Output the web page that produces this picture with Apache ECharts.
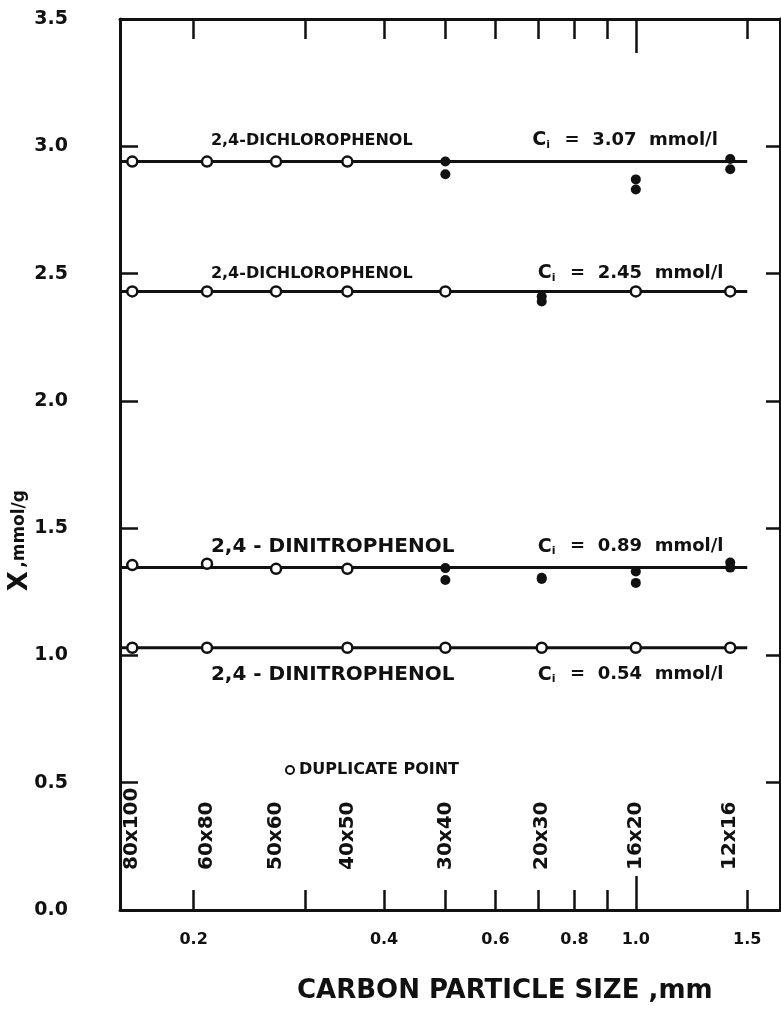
<!DOCTYPE html>
<html>
<head>
<meta charset="utf-8">
<script src="https://cdn.jsdelivr.net/npm/echarts@6/dist/echarts.min.js"></script>
<style>
  html, body { margin: 0; padding: 0; background: #fff; }
  #chart { width: 781px; height: 1009px; }
</style>
</head>
<body>
<div id="chart"></div>
<script>
// Sieve fractions and their mean particle diameters (mm)
const meshSizes = ['80x100', '60x80', '50x60', '40x50', '30x40', '20x30', '16x20', '12x16'];
const meshDiameters = [0.16, 0.21, 0.27, 0.35, 0.50, 0.71, 1.00, 1.41];

// Axis ticks and labels
const xTickValues = [0.2, 0.3, 0.4, 0.5, 0.6, 0.7, 0.8, 0.9, 1.0, 1.5];
const xLabelValues = [0.2, 0.4, 0.6, 0.8, 1.0, 1.5];
const xMajorTick = [1.0];
const xRange = [0.153, 1.69];
const yRange = [0, 3.5];
const yStep = 0.5;

// Curves: compound, initial concentration (mmol/l), mean uptake X (mmol/g)
const compounds = ['2,4-DICHLOROPHENOL', '2,4-DICHLOROPHENOL', '2,4 - DINITROPHENOL', '2,4 - DINITROPHENOL'];
const initialConc = ['3.07', '2.45', '0.89', '0.54'];
const meanUptake = [2.94, 2.43, 1.345, 1.03];
const fitLineEnd = 1.5;

// Points where both replicates coincide (open circles), one row per curve, per sieve fraction
const coincident = [
  [2.94, 2.94, 2.94, 2.94, null, null, null, null],
  [2.43, 2.43, 2.43, 2.43, 2.43, null, 2.43, 2.43],
  [1.355, 1.36, 1.34, 1.34, null, null, null, null],
  [1.03, 1.03, null, 1.03, 1.03, 1.03, 1.03, 1.03]
];
// Separate replicate results (filled dots)
const replicateA = [
  [null, null, null, null, 2.94, null, 2.87, 2.95],
  [null, null, null, null, null, 2.41, null, null],
  [null, null, null, null, 1.343, 1.305, 1.33, 1.365],
  [null, null, null, null, null, null, null, null]
];
const replicateB = [
  [null, null, null, null, 2.89, null, 2.83, 2.91],
  [null, null, null, null, null, 2.39, null, null],
  [null, null, null, null, 1.296, 1.30, 1.285, 1.345],
  [null, null, null, null, null, null, null, null]
];

const FONT = '"DejaVu Sans", "Liberation Sans", sans-serif';
const INK = '#111';

function pairs(values) {
  const out = [];
  values.forEach((v, i) => { if (v !== null) out.push([meshDiameters[i], v]); });
  return out;
}

const series = [];

// Fitted horizontal lines
meanUptake.forEach((level) => {
  series.push({
    type: 'line',
    data: [[xRange[0], level], [fitLineEnd, level]],
    symbol: 'none',
    lineStyle: { color: INK, width: 3 },
    z: 2,
    silent: true
  });
});

// Replicate points (filled) and coincident duplicates (open)
coincident.forEach((row, i) => {
  series.push({
    type: 'scatter',
    name: 'replicate',
    data: pairs(replicateA[i]).concat(pairs(replicateB[i])),
    symbol: 'circle',
    symbolSize: 10,
    itemStyle: { color: INK, opacity: 1 },
    z: 3
  });
  series.push({
    type: 'scatter',
    name: 'DUPLICATE POINT',
    data: pairs(row),
    symbol: 'circle',
    symbolSize: 10,
    itemStyle: { color: '#fff', borderColor: INK, borderWidth: 2.5, opacity: 1 },
    z: 4
  });
});

// Curve annotations: compound name and initial concentration
const nameLabelX = 0.213;
const concLabelX = [0.686, 0.70, 0.70, 0.70];
const labelOffsets = [-21, -18, -21, 27];
const nameStyles = ['n16', 'n16', 'n20', 'n20'];
const richText = {
  n16: { fontFamily: FONT, fontWeight: 'bold', fontSize: 16, color: INK },
  n20: { fontFamily: FONT, fontWeight: 'bold', fontSize: 20, color: INK },
  t: { fontFamily: FONT, fontWeight: 'bold', fontSize: 18, color: INK },
  c: { fontFamily: FONT, fontWeight: 'bold', fontSize: 19, color: INK },
  s: { fontFamily: FONT, fontWeight: 'bold', fontSize: 11, color: INK, padding: [9, 2, 0, 0] }
};
series.push({
  type: 'scatter',
  symbolSize: 0,
  silent: true,
  itemStyle: { opacity: 1 },
  data: meanUptake.flatMap((level, i) => [
    { value: [nameLabelX, level], label: { formatter: '{' + nameStyles[i] + '|' + compounds[i] + '}', offset: [0, labelOffsets[i]] } },
    { value: [concLabelX[i], level], label: { formatter: '{c|C}{s|i}{t|  =  ' + initialConc[i] + '  mmol/l}', offset: [0, labelOffsets[i]] } }
  ]),
  label: { show: true, position: 'right', distance: 0, rich: richText, color: INK },
  z: 5
});

// Sieve fraction labels, written upward from just above the size axis
const meshLabelBase = 0.157;
series.push({
  type: 'scatter',
  symbolSize: 0,
  silent: true,
  itemStyle: { opacity: 1 },
  data: meshDiameters.map(d => [d, meshLabelBase]),
  label: {
    show: true,
    position: 'inside',
    rotate: 90,
    align: 'left',
    verticalAlign: 'middle',
    formatter: p => meshSizes[p.dataIndex],
    fontFamily: FONT,
    fontWeight: 'bold',
    fontSize: 20,
    color: INK
  },
  z: 5
});

const axisLineStyle = { color: INK, width: 3 };
const tickLineStyle = { color: INK, width: 2.5 };

function xAxisOf(position, tickValues, tickLength, showLine, showLabel) {
  return {
    type: 'log',
    logBase: 10,
    position: position,
    min: xRange[0],
    max: xRange[1],
    axisLine: { show: showLine, onZero: false, lineStyle: axisLineStyle },
    axisTick: { show: true, inside: true, length: tickLength, customValues: tickValues, lineStyle: tickLineStyle },
    minorTick: { show: false },
    splitLine: { show: false },
    axisLabel: {
      show: showLabel,
      customValues: xLabelValues,
      formatter: v => Number(v).toFixed(1),
      margin: 22,
      fontFamily: FONT,
      fontWeight: 'bold',
      fontSize: 16,
      color: INK
    }
  };
}

function yAxisOf(position, tickLength, showLabel) {
  return {
    type: 'value',
    position: position,
    min: yRange[0],
    max: yRange[1],
    interval: yStep,
    axisLine: { show: true, onZero: false, lineStyle: axisLineStyle },
    axisTick: { show: true, inside: true, length: tickLength, lineStyle: tickLineStyle },
    splitLine: { show: false },
    axisLabel: {
      show: showLabel,
      formatter: v => v.toFixed(1),
      margin: 52,
      fontFamily: FONT,
      fontWeight: 'bold',
      fontSize: 19,
      color: INK
    }
  };
}

const option = {
  animation: false,
  backgroundColor: '#fff',
  grid: { left: 120, right: 1, top: 19, bottom: 99, containLabel: false },
  xAxis: [
    xAxisOf('bottom', xTickValues, 20, true, true),
    xAxisOf('top', xTickValues, 20, true, false),
    xAxisOf('bottom', xMajorTick, 34, false, false),
    xAxisOf('top', xMajorTick, 34, false, false)
  ],
  yAxis: [
    yAxisOf('left', 18, true),
    yAxisOf('right', 14, false)
  ],
  legend: {
    data: [{ name: 'DUPLICATE POINT', icon: 'circle' }],
    left: 280,
    top: 757,
    itemWidth: 8,
    itemHeight: 8,
    itemGap: 12,
    selectedMode: false,
    textStyle: { fontFamily: FONT, fontWeight: 'bold', fontSize: 16, color: INK }
  },
  graphic: [
    {
      type: 'text',
      left: 7,
      top: 490,
      rotation: Math.PI / 2,
      style: {
        text: '{x|X} {u|,mmol/g}',
        rich: {
          x: { fontFamily: FONT, fontWeight: 'bold', fontSize: 26, fill: INK },
          u: { fontFamily: FONT, fontWeight: 'bold', fontSize: 17, fill: INK }
        }
      }
    },
    {
      type: 'text',
      left: 297,
      top: 978,
      style: {
        text: 'CARBON PARTICLE SIZE ,mm',
        fontFamily: FONT,
        fontWeight: 'bold',
        fontSize: 26,
        fill: INK
      }
    }
  ],
  series: series
};

const chart = echarts.init(document.getElementById('chart'), null, { renderer: 'canvas' });
chart.setOption(option);
</script>
</body>
</html>
